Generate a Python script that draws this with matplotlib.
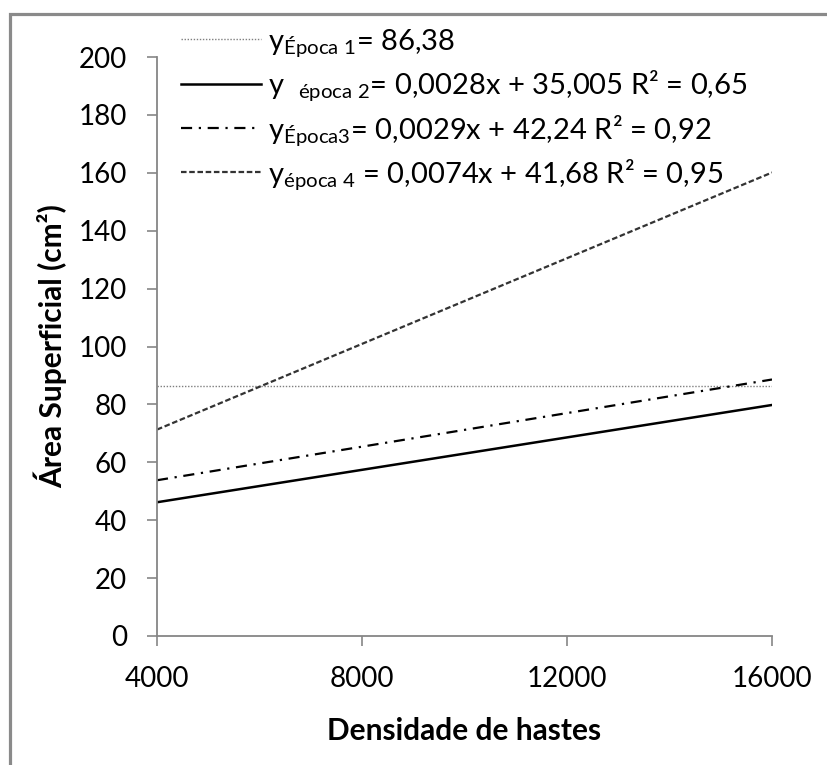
import matplotlib
matplotlib.use("Agg")
import matplotlib.pyplot as plt
from matplotlib.patches import Rectangle

# values
densidade = [4000, 16000]
epoca1 = [86.38, 86.38]
epoca2 = [46.2, 79.8]
epoca3 = [53.8, 88.6]
epoca4 = [71.3, 160.1]

labels = [
    r"y$_{\mathrm{Época\ 1}}$= 86,38",
    r"y  $_{\mathrm{época\ 2}}$= 0,0028x + 35,005 R² = 0,65",
    r"y$_{\mathrm{Época3}}$= 0,0029x + 42,24 R² = 0,92",
    r"y$_{\mathrm{época\ 4}}$ = 0,0074x + 41,68 R² = 0,95",
]
xticks = [4000, 8000, 12000, 16000]
yticks = list(range(0, 201, 20))

plt.rcParams["font.family"] = ["Lato", "DejaVu Sans"]
plt.rcParams["mathtext.fontset"] = "custom"
plt.rcParams["mathtext.rm"] = "Lato"
plt.rcParams["mathtext.it"] = "Lato"

W, H = 827, 765
fig = plt.figure(figsize=(W / 100, H / 100), dpi=100)
ax = fig.add_axes([157 / W, 1 - 636 / H, (772 - 157) / W, (636 - 57) / H])

grey = "#868686"
ax.plot(densidade, epoca1, color="#7f7f7f", lw=1.0, ls=(0, (1, 1.2)), label=labels[0])
ax.plot(densidade, epoca2, color="black", lw=1.8, ls="-", label=labels[1])
ax.plot(densidade, epoca3, color="black", lw=1.6, ls=(0, (5, 3, 1, 3)), label=labels[2])
ax.plot(densidade, epoca4, color="#333333", lw=1.6, ls=(0, (2.5, 1.2)), label=labels[3])

ax.set_xlim(4000, 16000)
ax.set_ylim(0, 200)
ax.set_xticks(xticks)
ax.set_yticks(yticks)
ax.tick_params(axis="both", labelsize=20, length=7.5, width=1.2, color=grey, direction="out")
ax.tick_params(axis="x", pad=14)
ax.tick_params(axis="y", pad=14)
for side in ["top", "right"]:
    ax.spines[side].set_visible(False)
for side in ["left", "bottom"]:
    ax.spines[side].set_color(grey)
    ax.spines[side].set_linewidth(1.3)

ax.set_xlabel("Densidade de hastes", fontsize=21.5, fontweight="bold", labelpad=18)
ax.set_ylabel("Área Superficial (cm²)", fontsize=21.5, fontweight="bold", labelpad=8)

leg = ax.legend(loc="upper left", bbox_to_anchor=(0.02, 1.072), frameon=False,
                fontsize=21, handlelength=2.75, handletextpad=0.25,
                labelspacing=0.32, borderaxespad=0)

# outer grey frame (only left and top edges visible)
fig.add_artist(Rectangle((9.5 / W, -0.1), 1.2, 1.1 - 14.5 / H, transform=fig.transFigure,
                         fill=False, edgecolor="#8a8a8a", lw=2.3))

fig.savefig("out.png", dpi=100)
